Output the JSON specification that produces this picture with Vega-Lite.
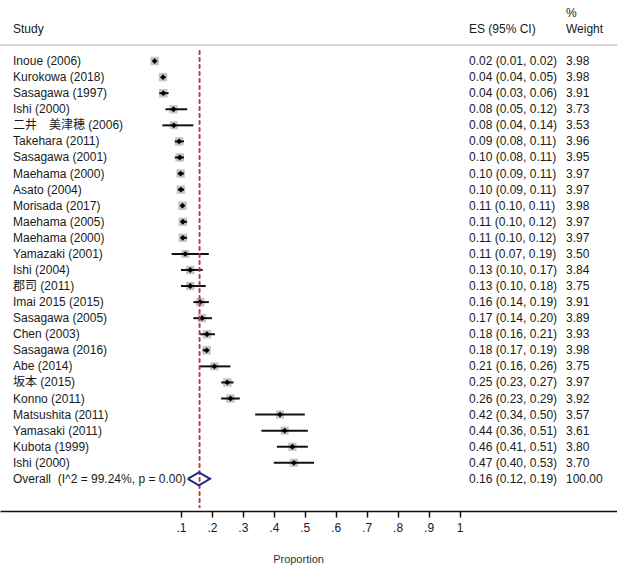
{
  "$schema": "https://vega.github.io/schema/vega-lite/v6.json",
  "width": 617,
  "height": 511,
  "autosize": {"type": "none"},
  "padding": {"left": 0, "top": 0, "right": 0, "bottom": 62},
  "background": "white",
  "config": {
    "view": {"stroke": null},
    "font": "Liberation Sans, Noto Sans CJK JP, sans-serif",
    "text": {"font": "Liberation Sans, Noto Sans CJK JP, sans-serif", "fontSize": 12, "color": "#1a1a1a", "baseline": "middle", "align": "left"}
  },
  "datasets": {
    "table": [
      {"row": 1, "study": "Inoue (2006)", "es": 0.015, "lo": 0.01, "hi": 0.02, "ci": "0.02 (0.01, 0.02)", "weight": 3.98, "kind": "study"},
      {"row": 2, "study": "Kurokowa (2018)", "es": 0.042, "lo": 0.04, "hi": 0.05, "ci": "0.04 (0.04, 0.05)", "weight": 3.98, "kind": "study"},
      {"row": 3, "study": "Sasagawa (1997)", "es": 0.043, "lo": 0.03, "hi": 0.06, "ci": "0.04 (0.03, 0.06)", "weight": 3.91, "kind": "study"},
      {"row": 4, "study": "Ishi (2000)", "es": 0.076, "lo": 0.05, "hi": 0.12, "ci": "0.08 (0.05, 0.12)", "weight": 3.73, "kind": "study"},
      {"row": 5, "study": "二井　美津穂 (2006)", "es": 0.077, "lo": 0.04, "hi": 0.14, "ci": "0.08 (0.04, 0.14)", "weight": 3.53, "kind": "study"},
      {"row": 6, "study": "Takehara (2011)", "es": 0.094, "lo": 0.08, "hi": 0.11, "ci": "0.09 (0.08, 0.11)", "weight": 3.96, "kind": "study"},
      {"row": 7, "study": "Sasagawa (2001)", "es": 0.096, "lo": 0.08, "hi": 0.11, "ci": "0.10 (0.08, 0.11)", "weight": 3.95, "kind": "study"},
      {"row": 8, "study": "Maehama (2000)", "es": 0.099, "lo": 0.09, "hi": 0.11, "ci": "0.10 (0.09, 0.11)", "weight": 3.97, "kind": "study"},
      {"row": 9, "study": "Asato (2004)", "es": 0.1, "lo": 0.09, "hi": 0.11, "ci": "0.10 (0.09, 0.11)", "weight": 3.97, "kind": "study"},
      {"row": 10, "study": "Morisada (2017)", "es": 0.105, "lo": 0.1, "hi": 0.11, "ci": "0.11 (0.10, 0.11)", "weight": 3.98, "kind": "study"},
      {"row": 11, "study": "Maehama (2005)", "es": 0.106, "lo": 0.1, "hi": 0.12, "ci": "0.11 (0.10, 0.12)", "weight": 3.97, "kind": "study"},
      {"row": 12, "study": "Maehama (2000)", "es": 0.106, "lo": 0.1, "hi": 0.12, "ci": "0.11 (0.10, 0.12)", "weight": 3.97, "kind": "study"},
      {"row": 13, "study": "Yamazaki (2001)", "es": 0.114, "lo": 0.07, "hi": 0.19, "ci": "0.11 (0.07, 0.19)", "weight": 3.5, "kind": "study"},
      {"row": 14, "study": "Ishi (2004)", "es": 0.13, "lo": 0.1, "hi": 0.17, "ci": "0.13 (0.10, 0.17)", "weight": 3.84, "kind": "study"},
      {"row": 15, "study": "郡司 (2011)", "es": 0.13, "lo": 0.1, "hi": 0.18, "ci": "0.13 (0.10, 0.18)", "weight": 3.75, "kind": "study"},
      {"row": 16, "study": "Imai 2015 (2015)", "es": 0.162, "lo": 0.14, "hi": 0.19, "ci": "0.16 (0.14, 0.19)", "weight": 3.91, "kind": "study"},
      {"row": 17, "study": "Sasagawa (2005)", "es": 0.168, "lo": 0.14, "hi": 0.2, "ci": "0.17 (0.14, 0.20)", "weight": 3.89, "kind": "study"},
      {"row": 18, "study": "Chen (2003)", "es": 0.184, "lo": 0.16, "hi": 0.21, "ci": "0.18 (0.16, 0.21)", "weight": 3.93, "kind": "study"},
      {"row": 19, "study": "Sasagawa (2016)", "es": 0.183, "lo": 0.17, "hi": 0.19, "ci": "0.18 (0.17, 0.19)", "weight": 3.98, "kind": "study"},
      {"row": 20, "study": "Abe (2014)", "es": 0.208, "lo": 0.16, "hi": 0.26, "ci": "0.21 (0.16, 0.26)", "weight": 3.75, "kind": "study"},
      {"row": 21, "study": "坂本 (2015)", "es": 0.25, "lo": 0.23, "hi": 0.27, "ci": "0.25 (0.23, 0.27)", "weight": 3.97, "kind": "study"},
      {"row": 22, "study": "Konno (2011)", "es": 0.26, "lo": 0.23, "hi": 0.29, "ci": "0.26 (0.23, 0.29)", "weight": 3.92, "kind": "study"},
      {"row": 23, "study": "Matsushita (2011)", "es": 0.42, "lo": 0.34, "hi": 0.5, "ci": "0.42 (0.34, 0.50)", "weight": 3.57, "kind": "study"},
      {"row": 24, "study": "Yamasaki (2011)", "es": 0.435, "lo": 0.36, "hi": 0.51, "ci": "0.44 (0.36, 0.51)", "weight": 3.61, "kind": "study"},
      {"row": 25, "study": "Kubota (1999)", "es": 0.46, "lo": 0.41, "hi": 0.51, "ci": "0.46 (0.41, 0.51)", "weight": 3.8, "kind": "study"},
      {"row": 26, "study": "Ishi (2000)", "es": 0.465, "lo": 0.4, "hi": 0.53, "ci": "0.47 (0.40, 0.53)", "weight": 3.7, "kind": "study"},
      {"row": 27, "study": "Overall\u00a0 (I^2 = 99.24%, p = 0.00)", "es": 0.16, "lo": 0.12, "hi": 0.19, "ci": "0.16 (0.12, 0.19)", "weight": 100, "kind": "overall"}
    ],
    "diamond": [
      {"order": 1, "x": 0.122, "y": 27},
      {"order": 2, "x": 0.158, "y": 26.6},
      {"order": 3, "x": 0.194, "y": 27},
      {"order": 4, "x": 0.158, "y": 27.4},
      {"order": 5, "x": 0.122, "y": 27}
    ],
    "header": [
      {"label": "Study", "line": -1, "col": "study"},
      {"label": "ES (95% CI)", "line": -1, "col": "es"},
      {"label": "%", "line": -2, "col": "wt"},
      {"label": "Weight", "line": -1, "col": "wt"}
    ]
  },
  "layer": [
    {
      "data": {"name": "header"},
      "mark": {"type": "rule", "color": "#d6d6d6", "strokeWidth": 2},
      "encoding": {
        "y": {"datum": 0, "type": "quantitative", "scale": {"domain": [-2.8, 29], "reverse": true, "nice": false, "zero": false}, "axis": null}
      }
    },
    {
      "data": {"name": "table"},
      "transform": [{"filter": "datum.kind == 'study'"}],
      "mark": {"type": "point", "shape": "square", "filled": true, "color": "#c4c4c4", "opacity": 1},
      "encoding": {
        "x": {"field": "es", "type": "quantitative", "scale": {"domain": [-0.4847, 1.5089], "nice": false, "zero": false},
          "axis": {
            "values": [0.1, 0.2, 0.3, 0.4, 0.5, 0.6, 0.7, 0.8, 0.9, 1],
            "format": "~g",
            "labelExpr": "datum.value >= 1 ? '1' : replace(datum.label, '0.', '.')",
            "grid": false,
            "domainColor": "#111",
            "domainWidth": 1.5,
            "tickColor": "#111",
            "tickWidth": 1.5,
            "tickSize": 6,
            "labelFont": "Liberation Sans",
            "labelFontSize": 12,
            "labelColor": "#1a1a1a",
            "labelPadding": 5,
            "labelFlush": false,
            "title": "Proportion",
            "titleFont": "Liberation Sans",
            "titleFontSize": 11,
            "titleFontWeight": "normal",
            "titleColor": "#333",
            "titlePadding": 20,
            "titleX": 298
          }
        },
        "y": {"field": "row", "type": "quantitative", "scale": {"domain": [-2.8, 29], "reverse": true, "nice": false, "zero": false}, "axis": null},
        "size": {"field": "weight", "type": "quantitative", "scale": {"type": "linear", "domain": [0, 4], "range": [0, 72], "zero": true}, "legend": null}
      }
    },
    {
      "data": {"name": "table"},
      "transform": [{"filter": "datum.kind == 'study'"}],
      "mark": {"type": "rule", "color": "#111", "strokeWidth": 2},
      "encoding": {
        "x": {"field": "lo", "type": "quantitative"},
        "x2": {"field": "hi"},
        "y": {"field": "row", "type": "quantitative", "axis": null}
      }
    },
    {
      "data": {"name": "table"},
      "transform": [{"filter": "datum.kind == 'study'"}],
      "mark": {"type": "point", "shape": "diamond", "filled": true, "color": "#000", "size": 34, "opacity": 1},
      "encoding": {
        "x": {"field": "es", "type": "quantitative"},
        "y": {"field": "row", "type": "quantitative", "axis": null}
      }
    },
    {
      "data": {"name": "header"},
      "mark": {"type": "rule", "color": "#b23a4a", "strokeWidth": 1.3, "strokeDash": [4, 3]},
      "encoding": {
        "x": {"datum": 0.16, "type": "quantitative"},
        "y": {"datum": 0.35, "type": "quantitative", "axis": null},
        "y2": {"datum": 28.8}
      }
    },
    {
      "data": {"name": "diamond"},
      "mark": {"type": "line", "color": "#1f2a86", "strokeWidth": 2, "strokeJoin": "miter"},
      "encoding": {
        "x": {"field": "x", "type": "quantitative"},
        "y": {"field": "y", "type": "quantitative", "axis": null},
        "order": {"field": "order", "type": "quantitative"}
      }
    },
    {
      "data": {"name": "table"},
      "mark": {"type": "text"},
      "encoding": {
        "x": {"datum": -0.4426, "type": "quantitative"},
        "y": {"field": "row", "type": "quantitative", "axis": null},
        "text": {"field": "study"}
      }
    },
    {
      "data": {"name": "table"},
      "mark": {"type": "text"},
      "encoding": {
        "x": {"datum": 1.0307, "type": "quantitative"},
        "y": {"field": "row", "type": "quantitative", "axis": null},
        "text": {"field": "ci"}
      }
    },
    {
      "data": {"name": "table"},
      "mark": {"type": "text"},
      "encoding": {
        "x": {"datum": 1.344, "type": "quantitative"},
        "y": {"field": "row", "type": "quantitative", "axis": null},
        "text": {"field": "weight", "type": "quantitative", "format": ".2f"}
      }
    },
    {
      "data": {"name": "header"},
      "transform": [{"filter": "datum.col == 'study'"}],
      "mark": {"type": "text"},
      "encoding": {
        "x": {"datum": -0.4426, "type": "quantitative"},
        "y": {"field": "line", "type": "quantitative", "axis": null},
        "text": {"field": "label"}
      }
    },
    {
      "data": {"name": "header"},
      "transform": [{"filter": "datum.col == 'es'"}],
      "mark": {"type": "text"},
      "encoding": {
        "x": {"datum": 1.0307, "type": "quantitative"},
        "y": {"field": "line", "type": "quantitative", "axis": null},
        "text": {"field": "label"}
      }
    },
    {
      "data": {"name": "header"},
      "transform": [{"filter": "datum.col == 'wt'"}],
      "mark": {"type": "text"},
      "encoding": {
        "x": {"datum": 1.344, "type": "quantitative"},
        "y": {"field": "line", "type": "quantitative", "axis": null},
        "text": {"field": "label"}
      }
    }
  ]
}
